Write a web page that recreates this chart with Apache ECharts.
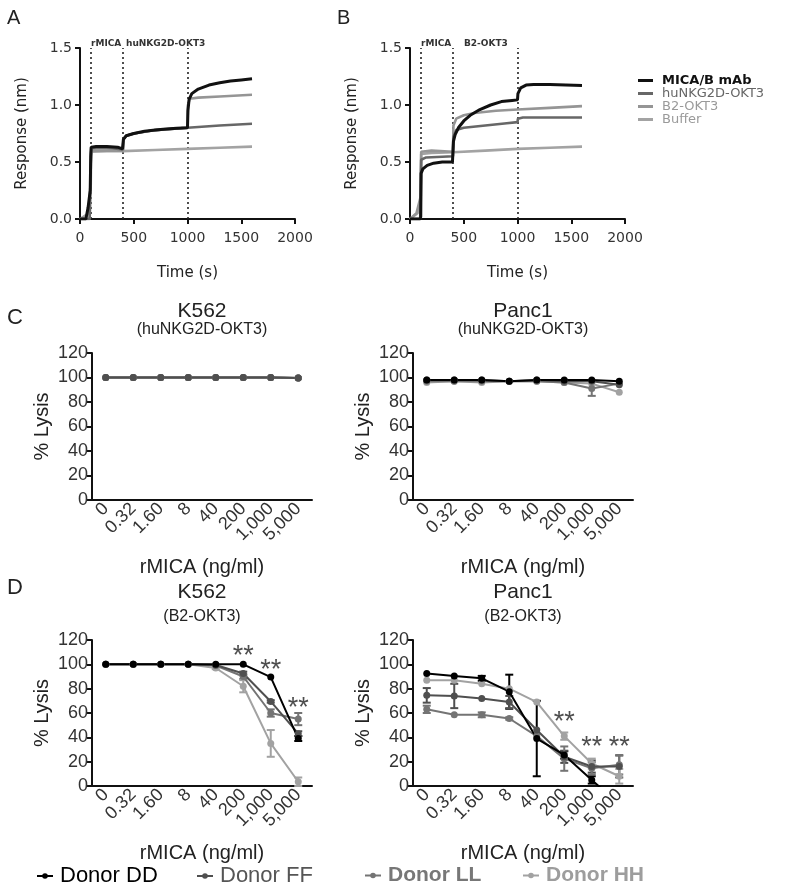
<!DOCTYPE html>
<html><head><meta charset="utf-8">
<script src="https://cdn.jsdelivr.net/npm/echarts@6/dist/echarts.min.js"></script>
<style>html,body{margin:0;padding:0;background:#fff}#c{width:800px;height:885px}</style>
</head><body><div id="c"></div>
<script>
// ---------- Panels A/B : sensorgrams (time s, response nm) ----------
const stepTimes = [100, 400, 1000];
const A_MICAB = [[0,0],[55,0],[75,0.1],[95,0.25],[100,0.55],[104,0.63],[150,0.635],[250,0.635],[350,0.63],[395,0.615],[400,0.61],[404,0.70],[430,0.73],[500,0.75],[600,0.77],[700,0.78],[800,0.79],[900,0.795],[1000,0.80],[1004,0.95],[1015,1.05],[1040,1.10],[1100,1.14],[1200,1.175],[1300,1.195],[1400,1.21],[1500,1.22],[1600,1.23]];
const A_huNKG2D = [[0,0],[90,0],[100,0.5],[104,0.62],[200,0.625],[300,0.62],[400,0.61],[404,0.70],[430,0.73],[500,0.75],[700,0.78],[1000,0.80],[1300,0.82],[1600,0.835]];
const A_B2 = [[0,0],[90,0],[100,0.5],[104,0.60],[400,0.60],[404,0.70],[430,0.73],[500,0.75],[700,0.78],[1000,0.80],[1004,1.0],[1020,1.055],[1100,1.065],[1300,1.075],[1600,1.09]];
const A_Buffer = [[0,0],[80,0.05],[100,0.3],[104,0.59],[250,0.595],[400,0.595],[700,0.605],[1000,0.615],[1300,0.625],[1600,0.635]];
const B_MICAB = [[0,0],[95,0],[100,0.02],[103,0.40],[120,0.44],[160,0.47],[220,0.49],[300,0.50],[395,0.50],[400,0.49],[404,0.68],[420,0.74],[450,0.80],[500,0.86],[560,0.91],[650,0.96],[750,1.00],[850,1.03],[950,1.04],[1000,1.045],[1004,1.10],[1030,1.15],[1080,1.175],[1150,1.18],[1300,1.18],[1450,1.175],[1600,1.17]];
const B_huNKG2D = [[0,0],[95,0],[100,0.3],[104,0.52],[150,0.54],[400,0.55],[404,0.72],[430,0.78],[500,0.80],[700,0.82],[900,0.84],[1000,0.85],[1004,0.88],[1050,0.89],[1600,0.89]];
const B_B2 = [[0,0],[60,0.05],[100,0.2],[104,0.59],[200,0.60],[400,0.59],[404,0.82],[430,0.88],[500,0.91],[600,0.93],[800,0.95],[1000,0.96],[1300,0.975],[1600,0.99]];
const B_Buffer = [[0,0],[70,0.05],[100,0.15],[104,0.57],[200,0.58],[400,0.585],[700,0.60],[1000,0.615],[1300,0.625],[1600,0.635]];
const sgNames = ['MICA/B mAb','huNKG2D-OKT3','B2-OKT3','Buffer'];

// ---------- Panels C/D : % lysis vs rMICA ----------
const concLabels = ['0','0.32','1.60','8','40','200','1,000','5,000'];
const donors = ['Donor DD','Donor FF','Donor LL','Donor HH'];
// C left: K562 (huNKG2D-OKT3)
const cK_DD = [100,100,100,100,100,100,100,99.5];
const cK_FF = [100,100,100,100,100,100,100,99.5];
const cK_LL = [100,100,100,100,100,100,100,99.5];
const cK_HH = [100,100,100,100,100,100,100,99.5];
// C right: Panc1 (huNKG2D-OKT3)
const cP_DD = [98,98,98,97,98,98,98,97];
const cP_FF = [98,98,98,97,98,97,97,94];
const cP_LL = [97,97,97,97,97,96,91,95];
const cP_HH = [96,97,96,97,97,96,95,88];
const cP_LL_err = [0,0,0,0,0,0,6,0];
// D left: K562 (B2-OKT3)
const dK_DD = [100,100,100,100,100,100,89.5,39];
const dK_FF = [100,100,100,100,99.5,92.5,69.5,43];
const dK_LL = [100,100,100,100,99,90,60,55];
const dK_HH = [100,100,100,100,97,82,35,3.5];
const dK_DD_err = [0,0,0,0,0,0,0,2];
const dK_FF_err = [0,0,0,0,0,1.5,1,2];
const dK_LL_err = [0,0,0,0,0,2,3,5];
const dK_HH_err = [0,0,0,0,1,5,11,3.5];
const dK_stars = [[5,106],[6,95],[7,64]];
// D right: Panc1 (B2-OKT3)
const dP_DD = [92.5,90.5,88.5,77.5,39,25.5,5,-15];
const dP_FF = [74.5,74,72,69,46,24,16,16];
const dP_LL = [63,58.5,58.5,55.5,41,22.5,14.5,17.5];
const dP_HH = [87,87,84,80,69,41,18.5,8];
const dP_DD_err = [0,0,2,14,31,3,3,0];
const dP_FF_err = [6,10,0,5,0,5,5,9];
const dP_LL_err = [3,0,2,1,0,10,5,8];
const dP_HH_err = [0,0,0,0,0,3,4,6];
const dP_stars = [[5,52],[6,32],[7,32]];

const SANS = '"Liberation Sans",Arial,sans-serif';
const WIDE = '"DejaVu Sans",sans-serif';
const sgColors = ['#111111','#676767','#959595','#a3a3a3'];
const sgText = ['#111111','#666666','#9a9a9a','#9a9a9a'];
const dColors = ['#000000','#4f4f4f','#747474','#a2a2a2'];
const dText = ['#000000','#555555','#777777','#9d9d9d'];

const chart = echarts.init(document.getElementById('c'), null, {renderer:'canvas'});

const grids = [
  {left:80, top:48, width:215, height:171},
  {left:410, top:48, width:215, height:171},
  {left:92, top:353, width:220, height:147},
  {left:413, top:353, width:220, height:147},
  {left:92, top:640, width:220, height:146},
  {left:413, top:640, width:220, height:146}
];
const xAxes = [], yAxes = [], series = [];
for (let g = 0; g < 2; g++) {
  xAxes.push({type:'value', gridIndex:g, min:0, max:2000, interval:500,
    name:'Time (s)', nameLocation:'middle', nameGap:47,
    nameTextStyle:{fontFamily:WIDE, fontSize:15, color:'#222'},
    axisLine:{lineStyle:{color:'#111', width:2}}, axisTick:{length:5, lineStyle:{width:2}},
    axisLabel:{fontFamily:WIDE, fontSize:14, color:'#333', margin:12, formatter:v=>String(v)}, splitLine:{show:false}});
  yAxes.push({type:'value', gridIndex:g, min:0, max:1.5, interval:0.5,
    name:'Response (nm)', nameLocation:'middle', nameGap:50, nameRotate:90,
    nameTextStyle:{fontFamily:WIDE, fontSize:15, color:'#222'},
    axisLine:{show:true, lineStyle:{color:'#111', width:2}}, axisTick:{show:true, length:5, lineStyle:{width:2}},
    axisLabel:{fontFamily:WIDE, fontSize:14, color:'#333', margin:8, formatter:v=>v.toFixed(1)}, splitLine:{show:false}});
}
for (let g = 2; g < 6; g++) {
  xAxes.push({type:'category', gridIndex:g, data:concLabels, boundaryGap:true,
    name:'rMICA (ng/ml)', nameLocation:'middle', nameGap:57,
    nameTextStyle:{fontFamily:SANS, fontSize:20, color:'#222'},
    axisLine:{lineStyle:{color:'#111', width:2}},
    axisTick:{alignWithLabel:true, length:5, lineStyle:{width:2}},
    axisLabel:{rotate:45, interval:0, fontFamily:SANS, fontSize:18, color:'#333', margin:6}});
  yAxes.push({type:'value', gridIndex:g, min:0, max:120, interval:20,
    name:'% Lysis', nameLocation:'middle', nameGap:40, nameRotate:90,
    nameTextStyle:{fontFamily:SANS, fontSize:20, color:'#222'},
    axisLine:{show:true, lineStyle:{color:'#111', width:2}}, axisTick:{show:true, length:5, lineStyle:{width:2}},
    axisLabel:{fontFamily:SANS, fontSize:18, color:'#333', margin:4}, splitLine:{show:false}});
}

function sg(g, name, data, idx, withMarks) {
  const s = {type:'line', name, xAxisIndex:g, yAxisIndex:g, data, symbol:'none',
    lineStyle:{color:sgColors[idx], width: idx===0 ? 3 : 2.6}, itemStyle:{color:sgColors[idx]},
    z: 10 - idx, animation:false};
  if (withMarks) s.markLine = {silent:true, symbol:'none', label:{show:false},
    lineStyle:{color:'#222', type:[2,3], width:1.6}, data: stepTimes.map(t=>({xAxis:t}))};
  return s;
}
series.push(sg(0,sgNames[3],A_Buffer,3,false), sg(0,sgNames[2],A_B2,2,false), sg(0,sgNames[1],A_huNKG2D,1,false), sg(0,sgNames[0],A_MICAB,0,true));
series.push(sg(1,sgNames[3],B_Buffer,3,false), sg(1,sgNames[2],B_B2,2,false), sg(1,sgNames[1],B_huNKG2D,1,false), sg(1,sgNames[0],B_MICAB,0,true));

function lys(g, di, vals) {
  return {type:'line', name:donors[di], xAxisIndex:g, yAxisIndex:g, data:vals,
    symbol:'circle', symbolSize:7, clip:true, lineStyle:{color:dColors[di], width:2},
    itemStyle:{color:dColors[di]}, animation:false};
}
function errs(g, di, vals, err) {
  const d = [];
  vals.forEach((v,i)=>{ if (err[i] > 0) d.push([i, v-err[i], v+err[i]]); });
  return {type:'custom', xAxisIndex:g, yAxisIndex:g, data:d, silent:true, animation:false, z:3,
    renderItem:(params, api)=>{
      const x = api.value(0);
      const p1 = api.coord([x, api.value(2)]), p2 = api.coord([x, api.value(1)]);
      const st = {stroke:dColors[di], lineWidth:2};
      return {type:'group', children:[
        {type:'line', shape:{x1:p1[0],y1:p1[1],x2:p2[0],y2:p2[1]}, style:st},
        {type:'line', shape:{x1:p1[0]-4,y1:p1[1],x2:p1[0]+4,y2:p1[1]}, style:st},
        {type:'line', shape:{x1:p2[0]-4,y1:p2[1],x2:p2[0]+4,y2:p2[1]}, style:st}]};
    }};
}
function stars(g, pts) {
  return {type:'scatter', xAxisIndex:g, yAxisIndex:g, data:pts, symbolSize:1, silent:true,
    itemStyle:{color:'rgba(0,0,0,0)'}, animation:false,
    label:{show:true, position:'inside', formatter:'**', fontFamily:SANS, fontSize:27, color:'#222'}};
}
// C left (FF drawn last so the dark grey shows on top)
series.push(lys(2,0,cK_DD), lys(2,3,cK_HH), lys(2,2,cK_LL), lys(2,1,cK_FF));
// C right
series.push(lys(3,3,cP_HH), lys(3,2,cP_LL), lys(3,1,cP_FF), lys(3,0,cP_DD), errs(3,2,cP_LL,cP_LL_err));
// D left
series.push(lys(4,3,dK_HH), lys(4,2,dK_LL), lys(4,1,dK_FF), lys(4,0,dK_DD),
  errs(4,0,dK_DD,dK_DD_err), errs(4,1,dK_FF,dK_FF_err), errs(4,2,dK_LL,dK_LL_err), errs(4,3,dK_HH,dK_HH_err), stars(4,dK_stars));
// D right
series.push(lys(5,3,dP_HH), lys(5,2,dP_LL), lys(5,1,dP_FF), lys(5,0,dP_DD),
  errs(5,0,dP_DD,dP_DD_err), errs(5,1,dP_FF,dP_FF_err), errs(5,2,dP_LL,dP_LL_err), errs(5,3,dP_HH,dP_HH_err), stars(5,dP_stars));

const legends = [{
  orient:'vertical', left:633, top:69, itemWidth:15, itemHeight:3, itemGap:0, icon:'rect',
  data: sgNames.map((n,i)=>({name:n, textStyle:{color:sgText[i], fontWeight: i===0?'bold':'normal'}})),
  textStyle:{fontFamily:WIDE, fontSize:13, padding:[0,0,0,4]}, selectedMode:false
}];
const legLeft = [31, 191, 359, 517];
const legSize = [22, 22, 21, 21];
donors.forEach((d,i)=>legends.push({left:legLeft[i], top:860, itemWidth:16, itemHeight:7, selectedMode:false,
  data:[{name:d, textStyle:{color:dText[i], fontSize:legSize[i], fontWeight: i>=2 ? 'bold':'normal'}}],
  textStyle:{fontFamily:SANS, fontSize:legSize[i], padding:[0,0,0,2]}}));

function txt(x, y, text, font, color, align) {
  return {type:'text', x, y, silent:true, style:{text, font, fill:color||'#222', align:align||'left', verticalAlign:'middle'}};
}
const graphics = [
  txt(7,18,'A','20px '+SANS), txt(337,18,'B','20px '+SANS),
  txt(7,318,'C','22px '+SANS), txt(7,588,'D','22px '+SANS),
  txt(91,44,'rMICA','bold 9px '+WIDE,'#333'), txt(126,44,'huNKG2D-OKT3','bold 9px '+WIDE,'#333'),
  txt(421,44,'rMICA','bold 9px '+WIDE,'#333'), txt(464,44,'B2-OKT3','bold 9px '+WIDE,'#333'),
  txt(202,311,'K562','21px '+SANS,'#222','center'), txt(202,330,'(huNKG2D-OKT3)','16px '+SANS,'#222','center'),
  txt(523,311,'Panc1','21px '+SANS,'#222','center'), txt(523,330,'(huNKG2D-OKT3)','16px '+SANS,'#222','center'),
  txt(202,592,'K562','21px '+SANS,'#222','center'), txt(202,617,'(B2-OKT3)','16px '+SANS,'#222','center'),
  txt(523,592,'Panc1','21px '+SANS,'#222','center'), txt(523,617,'(B2-OKT3)','16px '+SANS,'#222','center')
];

chart.setOption({animation:false, backgroundColor:'#fff', grid:grids, xAxis:xAxes, yAxis:yAxes,
  series, legend:legends, graphic:graphics});
</script></body></html>
